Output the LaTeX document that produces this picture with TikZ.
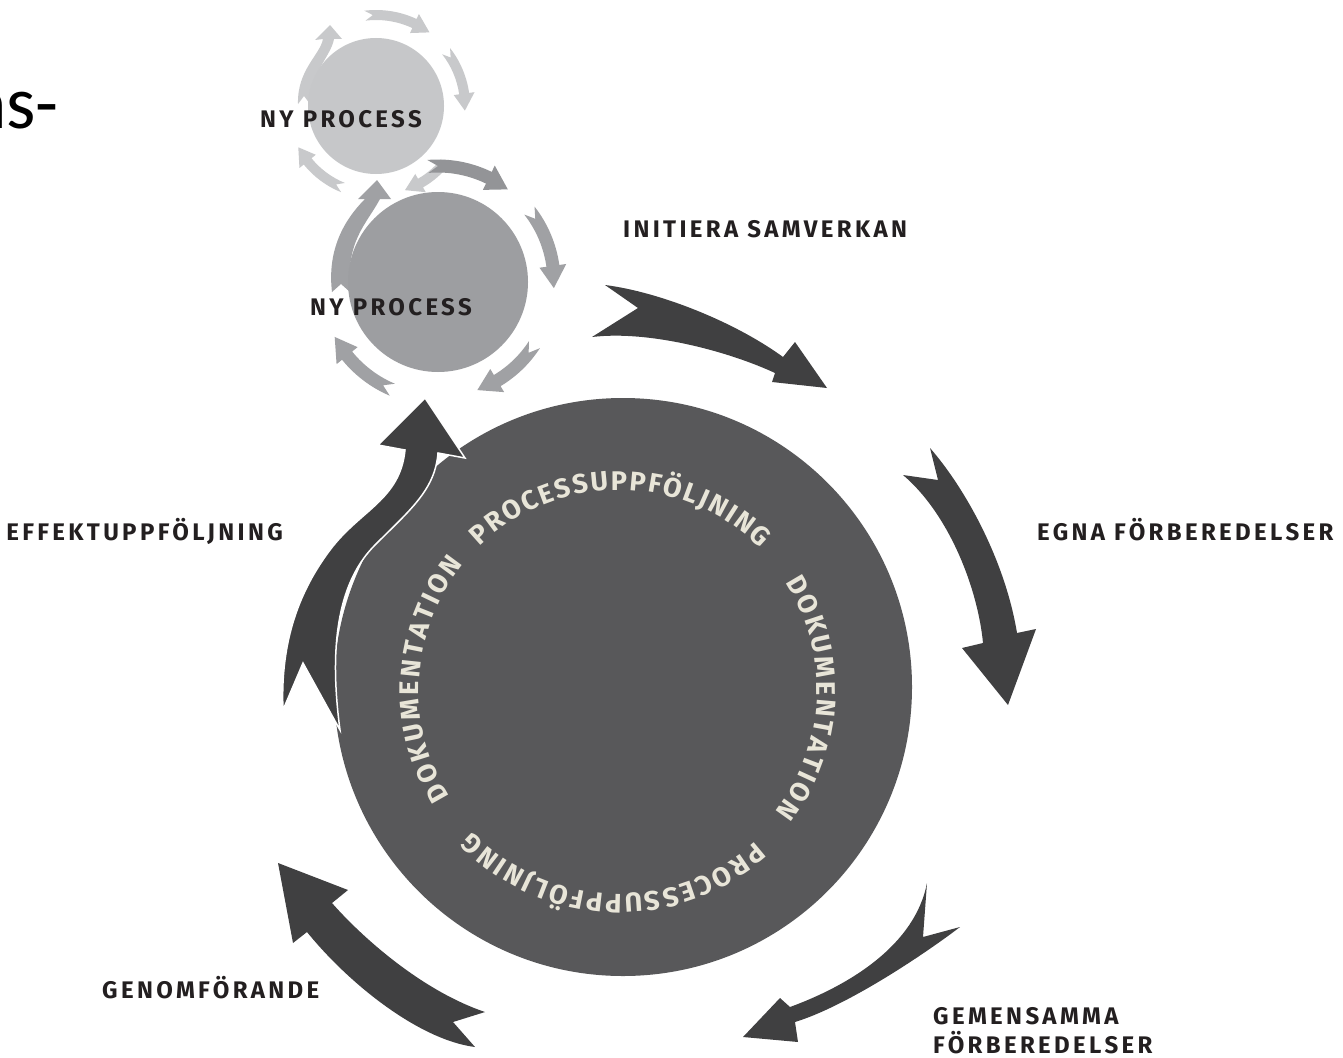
\documentclass[tikz,border=0pt]{standalone}
\usepackage{fontspec}
\setmainfont{Fira Sans}
\newfontfamily\lblfont{Fira Sans}[LetterSpace=14]
\newfontfamily\ringfam{Fira Sans}
\newfontfamily\nsfont{Carlito}
\usetikzlibrary{decorations.text}
\definecolor{bigc}{HTML}{58585A}
\definecolor{arrowc}{HTML}{404041}
\definecolor{lowcirc}{HTML}{9D9EA1}
\definecolor{lowarr}{HTML}{A0A1A4}
\definecolor{lowarrdark}{HTML}{939497}
\definecolor{upcirc}{HTML}{C6C7C9}
\definecolor{uparr}{HTML}{C8C9CB}
\definecolor{cream}{HTML}{E8E5D8}
\definecolor{labelc}{HTML}{231F20}
\newcommand{\ringfont}{\ringfam\bfseries\fontsize{27}{27}\selectfont}
% #1 cx, #2 cy, #3 r, #4 start angle, #5 end angle, #6 width, #7 head width, #8 style
\newcommand{\arcarrow}[8]{%
  \pgfmathsetmacro{\aaSg}{(#5>#4)?1:-1}%
  \pgfmathsetmacro{\aaH}{#5-\aaSg*11}%
  \pgfmathsetmacro{\aaN}{#4+\aaSg*5}%
  \pgfmathsetmacro{\aaRo}{#3+#6/2}%
  \pgfmathsetmacro{\aaRi}{#3-#6/2}%
  \pgfmathsetmacro{\aaHo}{#3+#7/2}%
  \pgfmathsetmacro{\aaHi}{#3-#7/2}%
  \fill[#8] ([shift={(#1,#2)}]#4:\aaRo) arc[start angle=#4,end angle=\aaH,radius=\aaRo]
    -- ([shift={(#1,#2)}]\aaH:\aaHo) -- ([shift={(#1,#2)}]#5:#3)
    -- ([shift={(#1,#2)}]\aaH:\aaHi) -- ([shift={(#1,#2)}]\aaH:\aaRi)
    arc[start angle=\aaH,end angle=#4,radius=\aaRi]
    -- ([shift={(#1,#2)}]\aaN:#3) -- cycle;
}
\tikzset{
  bigarrow/.style={fill=arrowc},
  lbl/.style={inner sep=0pt, anchor=base west, text=labelc,
    font={\lblfont\bfseries\fontsize{24}{26}\selectfont}},
  ringtext/.style={decorate, decoration={text along path, text={|\ringfont|#1},
    text align=fit to path, text color=cream}}
}
\begin{document}
\begin{tikzpicture}[x=1pt,y=1pt]
\useasboundingbox (0,0) rectangle (1343,-1057);
\fill[white] (0,0) rectangle (1343,-1057);

% ---- small process circles ----
\coordinate (uc) at (376,-106);
\coordinate (lc) at (438,-282);
% upper circle and its arrows
\fill[uparr] (330,-25) -- (342,-39) -- (334,-39)
  .. controls (331,-56) and (312,-70) .. (310,-104) -- (304,-96) -- (298,-104)
  .. controls (297,-70) and (320,-55) .. (323,-39) -- (315,-40) -- cycle;
\fill[upcirc] (uc) circle[radius=68];
\arcarrow{376}{-106}{91}{97}{54}{10}{21}{uparr}
\arcarrow{376}{-106}{89}{38}{-3}{10}{21}{uparr}
\arcarrow{376}{-106}{89}{-39}{-71}{10}{21}{uparr}
\arcarrow{376}{-106}{88}{-112}{-152}{10}{21}{uparr}
% lower circle and its arrows
\fill[lowarr] (377,-180) -- (391,-199) -- (380,-199)
  .. controls (366,-225) and (346,-240) .. (350,-292) -- (341,-284) -- (332,-292)
  .. controls (327,-250) and (344,-220) .. (365,-199) -- (358,-199) -- cycle;
\fill[lowcirc] (lc) circle[radius=90];
\arcarrow{438}{-282}{116}{95}{53}{13}{27}{lowarrdark}
\arcarrow{438}{-282}{116}{38}{-3}{13}{27}{lowarr}
\arcarrow{438}{-282}{115}{-33}{-70}{13}{27}{lowarr}
\arcarrow{438}{-282}{117}{-113}{-152}{13}{27}{lowarr}

% ---- main circle ----
\coordinate (mc) at (623,-687);
\fill[bigc] (mc) circle[radius=289];

% ring texts
\path[ringtext=PROCESSUPPFÖLJNING] ([shift={(619,-690)}]134:200) arc[start angle=134,end angle=45,radius=200];
\path[ringtext=DOKUMENTATION] ([shift={(619,-690)}]33:198) arc[start angle=33,end angle=-38,radius=198];
\path[ringtext=PROCESSUPPFÖLJNING] ([shift={(619,-690)}]-48:204) arc[start angle=-48,end angle=-136,radius=204];
\path[ringtext=DOKUMENTATION] ([shift={(619,-690)}]212:200) arc[start angle=212,end angle=141,radius=200];

% ---- big arrows ----
% initiera samverkan
\fill[bigarrow] (605,-285) .. controls (660,-292) and (735,-322) .. (783,-357)
  -- (795,-342) -- (827,-388) -- (772,-382) -- (775,-373)
  .. controls (730,-352) and (650,-330) .. (592,-337) -- (638,-308) -- cycle;
% egna forberedelser
\fill[bigarrow] (930,-448) .. controls (965,-488) and (1005,-560) .. (1017,-633)
  -- (1036,-629) -- (1008,-705) -- (962,-648) -- (983,-643)
  .. controls (978,-590) and (950,-515) .. (903,-475) -- (938,-480) -- cycle;
% gemensamma forberedelser
\fill[bigarrow] (927,-883) -- (923,-937) -- (960,-927)
  .. controls (930,-950) and (850,-1005) .. (795,-1022)
  -- (798,-1042) -- (743,-1037) -- (780,-998) -- (790,-1007)
  .. controls (850,-985) and (915,-945) .. (927,-883) -- cycle;
% genomforande
\fill[bigarrow] (278,-863) -- (348,-890) -- (332,-903)
  .. controls (360,-935) and (420,-990) .. (485,-1012)
  -- (453,-1022) -- (475,-1047)
  .. controls (420,-1040) and (350,-985) .. (307,-932) -- (293,-943) -- cycle;
% effektuppfoljning
\filldraw[fill=arrowc, draw=white, line width=1.5pt, line join=miter]
  (425,-398) -- (465,-458) -- (438,-453)
  .. controls (435,-490) and (410,-510) .. (375,-545)
  .. controls (340,-580) and (328,-640) .. (340,-730)
  -- (303,-663) -- (283,-710)
  .. controls (280,-640) and (300,-590) .. (330,-550)
  .. controls (360,-510) and (400,-500) .. (405,-450)
  -- (378,-445) -- cycle;

% ---- labels ----
\node[lbl] (np1) at (260,-127) {NY PROCESS};
\node[lbl] (np2) at (310,-315) {NY PROCESS};
\node[lbl] (init) at (623,-237) {INITIERA SAMVERKAN};
\node[lbl] (egna) at (1037,-540) {EGNA FÖRBEREDELSER};
\node[lbl, anchor=base east] (effekt) at (283,-540) {EFFEKTUPPFÖLJNING};
\node[lbl] (genom) at (102,-998) {GENOMFÖRANDE};
\node[lbl] (gem1) at (933,-1024) {GEMENSAMMA};
\node[lbl] (gem2) at (933,-1053) {FÖRBEREDELSER};
\node[inner sep=0pt, anchor=base east, text=black,
  font={\nsfont\fontsize{75}{80}\selectfont}] (ns) at (59,-128) {ns-};
\end{tikzpicture}
\end{document}
